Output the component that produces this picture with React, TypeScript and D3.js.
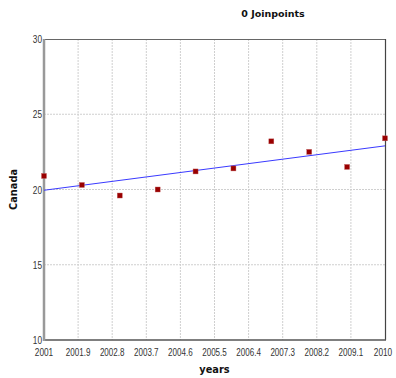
import React from "react";
import * as d3 from "d3";

const years = [2001, 2002, 2003, 2004, 2005, 2006, 2007, 2008, 2009, 2010];
const observed = [20.9, 20.3, 19.6, 20.0, 21.2, 21.4, 23.2, 22.5, 21.5, 23.4];
const fitYears = [2001, 2010];
const fitValues = [19.95, 22.9];
const xTicks = [2001, 2001.9, 2002.8, 2003.7, 2004.6, 2005.5, 2006.4, 2007.3, 2008.2, 2009.1, 2010];
const yTicks = [10, 15, 20, 25, 30];

const W = 396, H = 378;
const L = 44, R = 385, T = 39, B = 340;

function narrowWidth(s: string) {
  let w = 0;
  for (const c of s) w += c === "." ? 1.6 : 4.6;
  return w;
}

export default function App() {
  const x = d3.scaleLinear().domain([2001, 2010]).range([L, R]);
  const y = d3.scaleLinear().domain([10, 30]).range([B, T]);
  const line = d3.line<number>().x((_, i) => x(fitYears[i])).y((d) => y(d));
  const tickFont = "'Liberation Sans', sans-serif";
  const boldFont = "'DejaVu Sans', Verdana, sans-serif";
  const fmt = (t: number) => String(+t.toFixed(1));
  return (
    <svg width={W} height={H} style={{ position: "absolute", left: 0, top: 0, background: "#fff" }}>
      <rect x={0} y={0} width={W} height={H} fill="#fff" />
      {xTicks.slice(1, -1).map((t) => (
        <line key={"gx" + t} x1={x(t)} x2={x(t)} y1={T} y2={B} stroke="#cfcfcf" strokeWidth={1} strokeDasharray="2,1" />
      ))}
      {yTicks.slice(1, -1).map((t) => (
        <line key={"gy" + t} x1={L} x2={R} y1={y(t)} y2={y(t)} stroke="#cfcfcf" strokeWidth={1} strokeDasharray="2,1" />
      ))}
      <line x1={L} x2={R} y1={T + 0.5} y2={T + 0.5} stroke="#666" strokeWidth={1} />
      <line x1={R + 0.5} x2={R + 0.5} y1={T} y2={B} stroke="#444" strokeWidth={1.2} />
      <line x1={L} x2={R + 1} y1={B} y2={B} stroke="#555" strokeWidth={1.5} />
      <line x1={L} x2={L} y1={T} y2={B + 1} stroke="#999" strokeWidth={2.5} />
      <path d={line(fitValues) || ""} fill="none" stroke="#3a3aff" strokeWidth={1} />
      {observed.map((v, i) => (
        <rect key={"p" + i} x={x(years[i]) - 2.5} y={y(v) - 2.5} width={5} height={5} fill="#990000" stroke="#c06060" strokeWidth={0.4} />
      ))}
      {yTicks.map((t) => (
        <text key={"yl" + t} x={L - 2} y={y(t)} textAnchor="end" dominantBaseline="central" fontFamily={tickFont} fontSize={11} fill="#333"
          textLength={narrowWidth(String(t))} lengthAdjust="spacingAndGlyphs">
          {t}
        </text>
      ))}
      {xTicks.map((t, i) => (
        <text key={"xl" + t} x={x(t) - (i === xTicks.length - 1 ? 2 : 0)} y={352} textAnchor="middle" dominantBaseline="central" fontFamily={tickFont} fontSize={10.5} fill="#333"
          textLength={narrowWidth(fmt(t))} lengthAdjust="spacingAndGlyphs">
          {fmt(t)}
        </text>
      ))}
      <text x={273} y={13} textAnchor="middle" dominantBaseline="central" fontFamily={boldFont} fontWeight="bold" fontSize={9.5} fill="#111">
        0 Joinpoints
      </text>
      <text x={(L + R) / 2} y={369} textAnchor="middle" dominantBaseline="central" fontFamily={boldFont} fontWeight="bold" fontSize={9.8} fill="#111">
        years
      </text>
      <text transform={`translate(13,${(T + B) / 2}) rotate(-90)`} textAnchor="middle" dominantBaseline="central" fontFamily={boldFont} fontWeight="bold" fontSize={9.8} fill="#111">
        Canada
      </text>
    </svg>
  );
}
